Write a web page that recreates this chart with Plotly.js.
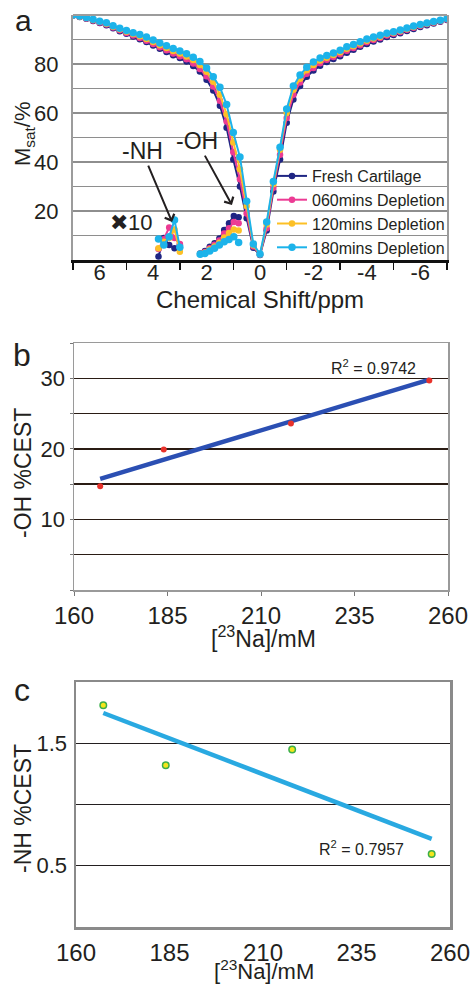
<!DOCTYPE html>
<html><head><meta charset="utf-8">
<script src="https://cdn.plot.ly/plotly-3.0.1.min.js"></script>
<style>html,body{margin:0;padding:0;background:#fff}#chart{width:471px;height:986px}</style>
</head><body><div id="chart"></div>
<script>
// ---------- Panel a: Z-spectra ----------
const ppm = [7, 6.75, 6.5, 6.25, 6, 5.75, 5.5, 5.25, 5, 4.75, 4.5, 4.25, 4, 3.75, 3.5, 3.25, 3, 2.75, 2.5, 2.25, 2, 1.75, 1.5, 1.25, 1, 0.75, 0.5, 0.25, 0, -0.25, -0.5, -0.75, -1, -1.25, -1.5, -1.75, -2, -2.25, -2.5, -2.75, -3, -3.25, -3.5, -3.75, -4, -4.25, -4.5, -4.75, -5, -5.25, -5.5, -5.75, -6, -6.25, -6.5, -6.75, -7];
const fresh = [99.8, 99.2, 98.5, 97.6, 96.7, 95.8, 94.6, 93.4, 92.3, 91.2, 90.1, 89, 87.6, 86.2, 84.9, 83.6, 82.4, 81, 79.2, 76.9, 73.6, 69.2, 63, 54, 41, 30, 17, 5, 2, 12, 28, 41, 56, 65.5, 71, 74.8, 77.3, 79.3, 80.8, 82, 83.2, 84.6, 85.8, 87, 88.2, 89.2, 90, 91, 91.8, 92.6, 93.5, 94.3, 95.1, 95.8, 96.5, 97.2, 98];
const dep060 = [99.8, 99.3, 98.6, 97.8, 96.9, 96.1, 94.9, 93.8, 92.7, 91.6, 90.6, 89.5, 88.2, 86.8, 85.6, 84.3, 83.2, 81.9, 80.2, 78, 75, 70.8, 65, 56.5, 44, 33, 19, 5.5, 2.2, 13, 29.5, 43, 58, 67.5, 72.5, 76, 78.4, 80.3, 81.7, 82.9, 84, 85.4, 86.5, 87.7, 88.9, 89.8, 90.6, 91.6, 92.3, 93.1, 94, 94.8, 95.5, 96.2, 96.8, 97.5, 98.2];
const dep120 = [99.9, 99.4, 98.8, 98, 97.2, 96.4, 95.2, 94.2, 93.2, 92.2, 91.3, 90.2, 89, 87.7, 86.5, 85.3, 84.3, 83.1, 81.6, 79.6, 76.8, 72.8, 67.5, 59.5, 48, 37, 22, 6, 2.3, 14.5, 31, 45, 60, 69.5, 74, 77.4, 79.6, 81.4, 82.6, 83.7, 84.8, 86.2, 87.2, 88.4, 89.5, 90.4, 91.1, 92.1, 92.8, 93.5, 94.3, 95.1, 95.8, 96.4, 97, 97.7, 98.4];
const dep180 = [100, 99.6, 99, 98.3, 97.5, 96.8, 95.6, 94.6, 93.7, 92.8, 92, 91, 89.8, 88.6, 87.4, 86.3, 85.3, 84.2, 82.8, 81, 78.4, 74.8, 70.5, 63.5, 52, 42, 24, 6.5, 2.4, 15.5, 32, 46, 61.6, 71, 75.5, 78.7, 80.8, 82.4, 83.5, 84.5, 85.6, 87, 88, 89.1, 90.2, 91, 91.7, 92.6, 93.2, 93.9, 94.7, 95.5, 96.1, 96.7, 97.3, 97.9, 98.6];

// x10 insets: -NH and -OH CEST
const nhPpm = [3.8, 3.6, 3.4, 3.2, 3.0];
const nhFresh = [1.4, 9, 6.1, 4.8, 6.1];
const nh060 = [4.5, 8.5, 13.3, 9, 6.5];
const nh120 = [4.8, 7.5, 9, 12.5, 3.4];
const nh180 = [8.6, 6.1, 9.5, 16.3, 5.2];
const ohPpm = [2.24, 2.06, 1.88, 1.70, 1.52, 1.34, 1.16, 0.98, 0.80];
const ohFresh = [2.7, 3.7, 5.4, 6.8, 8.8, 12.2, 15, 18, 17.4];
const oh060 = [2.5, 3.3, 4.8, 6.2, 8, 10.8, 13, 15.5, 15];
const oh120 = [2.5, 3, 4.3, 5.5, 7, 9.2, 11, 12.5, 12];
const oh180 = [2.3, 2.7, 3.7, 4.8, 6.1, 7.5, 8.4, 9.5, 7.1];

const seriesNames = ['Fresh Cartilage', '060mins Depletion', '120mins Depletion', '180mins Depletion'];
const xTickA = [6, 4, 2, 0, -2, -4, -6];
const xTickTextA = ['6', '4', '2', '0', '-2', '-4', '-6'];
const xTickMarksA = [7, 5, 3, 1, -1, -3, -5, -7];
const yTickA = [0, 10, 20, 30, 40, 50, 60, 70, 80, 90, 100];
const yTickTextA = ['', '', '20', '', '40', '', '60', '', '80', '', ''];

// ---------- Panel b / c ----------
const naOH = [167, 184, 218, 255];
const ohCest = [14.7, 19.9, 23.6, 29.7];
const naNH = [167.3, 184, 217.8, 255.1];
const nhCest = [1.81, 1.32, 1.45, 0.595];
const naTicks = [160, 185, 210, 235, 260];
const yTickB = [0, 5, 10, 15, 20, 25, 30, 35];
const yTickTextB = ['', '', '10', '', '20', '', '30', ''];
const yTickC = [0.5, 1, 1.5];
const yTickTextC = ['0.5', '', '1.5'];
const r2Text = ['R<sup>2</sup> = 0.9742', 'R<sup>2</sup> = 0.7957'];

const colors = ['#1f2583', '#ec3b94', '#fcc026', '#1cb3ea'];
const msize = [6.5, 6.5, 6.5, 7.5];
const FONT = 'Liberation Sans, Arial, sans-serif';
const W = 471, H = 986;
const px = v => v / W, py = v => 1 - v / H;

function fitLine(x, y) {
  const n = x.length;
  const mx = x.reduce((a, b) => a + b, 0) / n, my = y.reduce((a, b) => a + b, 0) / n;
  let sxy = 0, sxx = 0;
  for (let i = 0; i < n; i++) { sxy += (x[i] - mx) * (y[i] - my); sxx += (x[i] - mx) ** 2; }
  const b = sxy / sxx, a = my - b * mx;
  const xs = [Math.min(...x), Math.max(...x)];
  return { x: xs, y: xs.map(v => a + b * v) };
}

const mainSets = [fresh, dep060, dep120, dep180];
const nhSets = [nhFresh, nh060, nh120, nh180];
const ohSets = [ohFresh, oh060, oh120, oh180];
const traces = [];
for (let i = 0; i < 4; i++) {
  const common = { mode: 'lines+markers', line: { color: colors[i], width: 2 },
    marker: { color: colors[i], size: msize[i] }, xaxis: 'x', yaxis: 'y', legendgroup: 'g' + i };
  traces.push(Object.assign({ x: ppm, y: mainSets[i], name: seriesNames[i], showlegend: true }, common));
}
for (let i = 0; i < 4; i++) {
  const common = { mode: 'lines+markers', line: { color: colors[i], width: 2 },
    marker: { color: colors[i], size: msize[i] }, xaxis: 'x', yaxis: 'y', legendgroup: 'g' + i, showlegend: false };
  traces.push(Object.assign({ x: nhPpm, y: nhSets[i], name: seriesNames[i] }, common));
  traces.push(Object.assign({ x: ohPpm, y: ohSets[i], name: seriesNames[i] }, common));
}
// invisible carrier so the label-only axis is drawn
traces.push({ x: xTickA, y: xTickA.map(() => null), mode: 'markers', xaxis: 'x4', yaxis: 'y', showlegend: false, hoverinfo: 'skip', marker: { opacity: 0 } });

const fb = fitLine(naOH, ohCest);
traces.push({ x: fb.x, y: fb.y, mode: 'lines', line: { color: '#2b4fb3', width: 4.5 }, xaxis: 'x2', yaxis: 'y2', showlegend: false });
traces.push({ x: naOH, y: ohCest, mode: 'markers', marker: { color: '#e8322b', size: 6 }, xaxis: 'x2', yaxis: 'y2', showlegend: false });
const fc = fitLine(naNH, nhCest);
traces.push({ x: fc.x, y: fc.y, mode: 'lines', line: { color: '#29a9e1', width: 4.5 }, xaxis: 'x3', yaxis: 'y3', showlegend: false });
traces.push({ x: naNH, y: nhCest, mode: 'markers', marker: { color: '#f3e61c', size: 6.5, line: { color: '#3aae4a', width: 1.5 } }, xaxis: 'x3', yaxis: 'y3', showlegend: false });

const tickFont = { family: FONT, size: 22, color: '#231f20' };
const tickFontX = { family: FONT, size: 24, color: '#231f20' };
const ann = (text, x, y, size, extra) => Object.assign({ text, xref: 'paper', yref: 'paper', x: px(x), y: py(y),
  xanchor: 'center', yanchor: 'middle', showarrow: false, font: { family: FONT, size, color: '#231f20' } }, extra || {});

const layout = {
  width: W, height: H, margin: { l: 0, r: 0, t: 0, b: 0 },
  paper_bgcolor: '#fff', plot_bgcolor: '#fff', font: { family: FONT, color: '#231f20' },
  showlegend: true,
  legend: { x: px(272), y: py(159), xanchor: 'left', yanchor: 'top', bgcolor: 'rgba(0,0,0,0)',
    font: { family: FONT, size: 16, color: '#231f20' }, itemwidth: 30, traceorder: 'normal' },
  xaxis: { domain: [px(73), px(447)], range: [7, -7], anchor: 'y', showgrid: false, zeroline: false,
    showline: true, linecolor: '#111', linewidth: 2.5, tickmode: 'array', tickvals: xTickMarksA, showticklabels: false,
    ticks: 'outside', ticklen: 7, tickwidth: 1.5, tickcolor: '#111' },
  xaxis4: { domain: [px(73), px(447)], range: [7, -7], anchor: 'free', position: py(257), overlaying: 'x', side: 'bottom',
    showgrid: false, zeroline: false, showline: false, tickmode: 'array', tickvals: xTickA, ticktext: xTickTextA,
    ticks: '', tickfont: tickFont, ticklabelstandoff: 0 },
  yaxis: { domain: [py(260), py(15)], range: [0, 100], anchor: 'x', tickmode: 'array', tickvals: yTickA, ticktext: yTickTextA,
    showgrid: true, gridcolor: '#8e8e8e', gridwidth: 1.3, zeroline: false, showline: true, linecolor: '#9c9c9c', linewidth: 2,
    mirror: true, ticks: '', tickfont: tickFont, ticklabelstandoff: 8 },
  xaxis2: { domain: [px(74), px(448)], range: [160, 260], anchor: 'y2', tickmode: 'array', tickvals: naTicks,
    showgrid: false, zeroline: false, showline: true, linecolor: '#9a9a9a', linewidth: 1.5, mirror: true,
    ticks: 'outside', ticklen: 4, tickcolor: '#777', tickfont: tickFontX, ticklabelstandoff: 0 },
  yaxis2: { domain: [py(590), py(343)], range: [0, 35], anchor: 'x2', tickmode: 'array', tickvals: yTickB, ticktext: yTickTextB,
    showgrid: true, gridcolor: '#2a1c14', gridwidth: 1.3, zeroline: false, showline: true, linecolor: '#9a9a9a', linewidth: 1.5,
    mirror: true, ticks: 'outside', ticklen: 3, tickcolor: '#777', tickfont: tickFont, ticklabelstandoff: 0 },
  xaxis3: { domain: [px(76), px(450)], range: [160, 260], anchor: 'y3', tickmode: 'array', tickvals: naTicks,
    showgrid: false, zeroline: false, showline: true, linecolor: '#8a8a8a', linewidth: 2.5, mirror: true,
    ticks: '', tickfont: tickFontX, ticklabelstandoff: 3 },
  yaxis3: { domain: [py(927), py(682)], range: [0, 2], anchor: 'x3', tickmode: 'array', tickvals: yTickC, ticktext: yTickTextC,
    showgrid: true, gridcolor: '#231f20', gridwidth: 1.3, zeroline: false, showline: true, linecolor: '#8a8a8a', linewidth: 2.5,
    mirror: true, ticks: '', tickfont: tickFont, ticklabelstandoff: 2 },
  shapes: [
    { type: 'line', xref: 'x domain', yref: 'y domain', x0: 0, x1: 1, y0: 1, y1: 1, line: { color: '#9c9c9c', width: 2 } }
  ],
  annotations: [
    ann('a', 23, 21, 30),
    ann('b', 22, 355, 32),
    ann('c', 22, 690, 32),
    ann('M<sub>sat</sub>/%', 24, 134, 22, { textangle: -90 }),
    ann('Chemical Shift/ppm', 260, 300, 24),
    ann('✖10', 131, 222, 22),
    { text: '-NH', xref: 'x', yref: 'y', x: 3.29, y: 15.5, ax: -30, ay: -71, axref: 'pixel', ayref: 'pixel',
      showarrow: true, arrowhead: 4, arrowsize: 1, arrowwidth: 2, arrowcolor: '#231f20', font: { family: FONT, size: 23, color: '#231f20' } },
    { text: '-OH', xref: 'x', yref: 'y', x: 1.05, y: 22.4, ax: -35, ay: -64, axref: 'pixel', ayref: 'pixel',
      showarrow: true, arrowhead: 4, arrowsize: 1, arrowwidth: 2, arrowcolor: '#231f20', font: { family: FONT, size: 23, color: '#231f20' } },
    ann('-OH %CEST', 23, 473, 23, { textangle: -90 }),
    ann('[<sup>23</sup>Na]/mM', 263, 637, 23),
    ann(r2Text[0], 373, 367, 16),
    ann('-NH %CEST', 23, 809, 23, { textangle: -90 }),
    ann('[<sup>23</sup>Na]/mM', 264, 970, 22),
    ann(r2Text[1], 361, 848, 16)
  ]
};
Plotly.newPlot('chart', traces, layout, { displayModeBar: false, staticPlot: true });
</script></body></html>
